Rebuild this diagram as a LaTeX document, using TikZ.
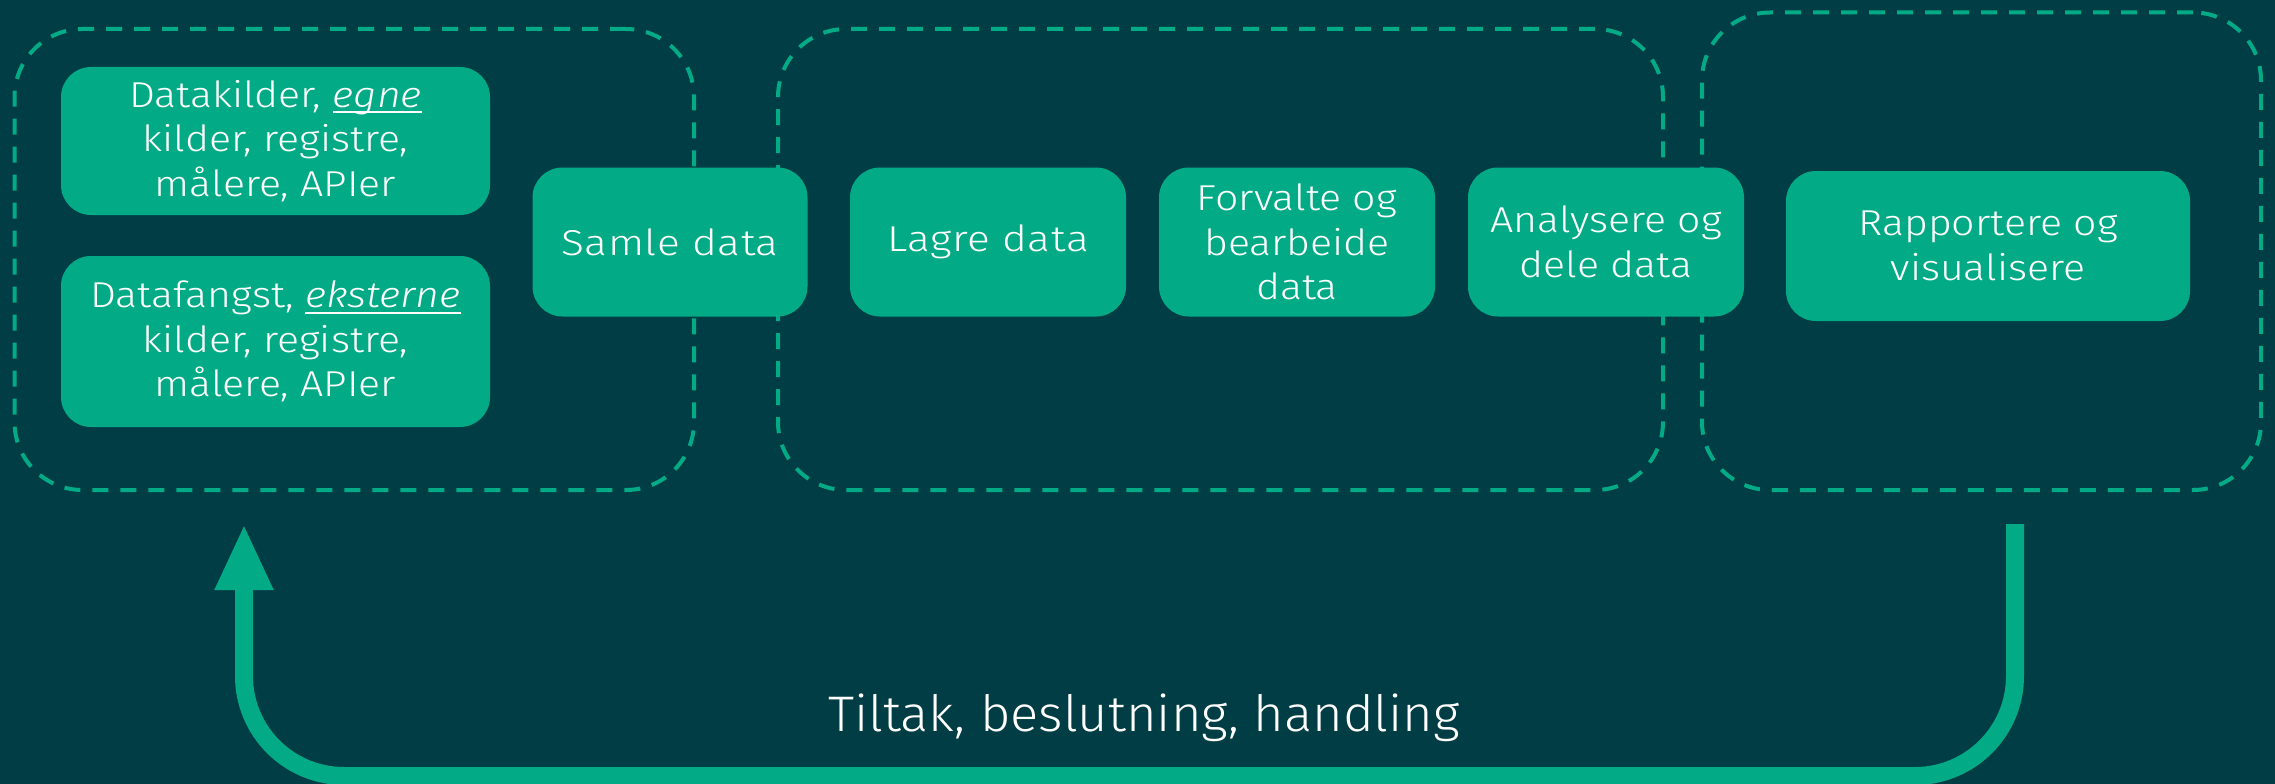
\documentclass[tikz,border=0pt]{standalone}
\usepackage{fontspec}
\setmainfont{Fira Sans}[UprightFont={* Light}, ItalicFont={* Light Italic}, FakeStretch=1.14]
\newfontfamily\widefont{Fira Sans}[UprightFont={* Light}, FakeStretch=1.18, LetterSpace=1.5]
\newfontfamily\lblfont{Fira Sans}[UprightFont={* Light}, FakeStretch=1.05]
\usetikzlibrary{arrows.meta}
\definecolor{bg}{RGB}{1,61,69}
\definecolor{grn}{RGB}{2,171,134}
\newcommand\myul[1]{\setbox0\hbox{#1}\rlap{\rule[-6pt]{\wd0}{2pt}}\box0}
\begin{document}
\begin{tikzpicture}[x=1pt,y=-1pt,
  stepbox/.style={fill=grn, rounded corners=30pt, text=white, align=center,
    font=\fontsize{36}{44.5}\selectfont, inner sep=0pt},
  widebox/.style={stepbox, font=\widefont\fontsize{36}{44}\selectfont},
  group/.style={draw=grn, line width=4pt, dash pattern=on 16pt off 12pt,
    rounded corners=68pt, inner sep=0pt},
  loop/.style={draw=grn, line width=18pt, rounded corners=100pt},
  lbl/.style={text=white, font=\lblfont\fontsize{50}{60}\selectfont, inner sep=0pt}
]
\fill[bg] (0,0) rectangle (2275,784);
\useasboundingbox (0,0) rectangle (2275,784);

% dashed groups
\node[group, minimum width=679.5pt, minimum height=461pt] (g1) at (354.25,259.5) {};
\node[group, minimum width=885pt, minimum height=461pt] (g2) at (1220.5,259.5) {};
\node[group, minimum width=559pt, minimum height=477.5pt] (g3) at (1981.5,251.25) {};

% steps
\node[stepbox, minimum width=429pt, minimum height=148pt] (src1) at (275.5,141)
  {Datakilder, \myul{\textit{egne}}\\kilder, registre,\\målere, APIer};
\node[stepbox, minimum width=429pt, minimum height=171pt] (src2) at (275.5,341.5)
  {Datafangst, \myul{\textit{eksterne}}\\kilder, registre,\\målere, APIer};
\node[widebox, minimum width=275pt, minimum height=149pt] (samle) at (670,242) {Samle data};
\node[widebox, minimum width=276pt, minimum height=149pt] (lagre) at (988,242) {Lagre data};
\node[stepbox, minimum width=276pt, minimum height=149pt] (forv) at (1297,242)
  {Forvalte og\\bearbeide\\data};
\node[stepbox, minimum width=276pt, minimum height=149pt] (anal) at (1606,242)
  {Analysere og\\dele data};
\node[stepbox, minimum width=404pt, minimum height=150pt] (rapp) at (1988,246)
  {Rapportere og\\visualisere};

% feedback loop
\coordinate (fbstart) at (2015,524);
\coordinate (fbend) at (244,524);
\draw[loop, -{Triangle[width=54pt,length=66pt]}]
  (fbstart) -- (2015,776) -- (244,776) -- (fbend);
\node[lbl, anchor=base] (tiltak) at (1144,731) {Tiltak, beslutning, handling};
\end{tikzpicture}
\end{document}
